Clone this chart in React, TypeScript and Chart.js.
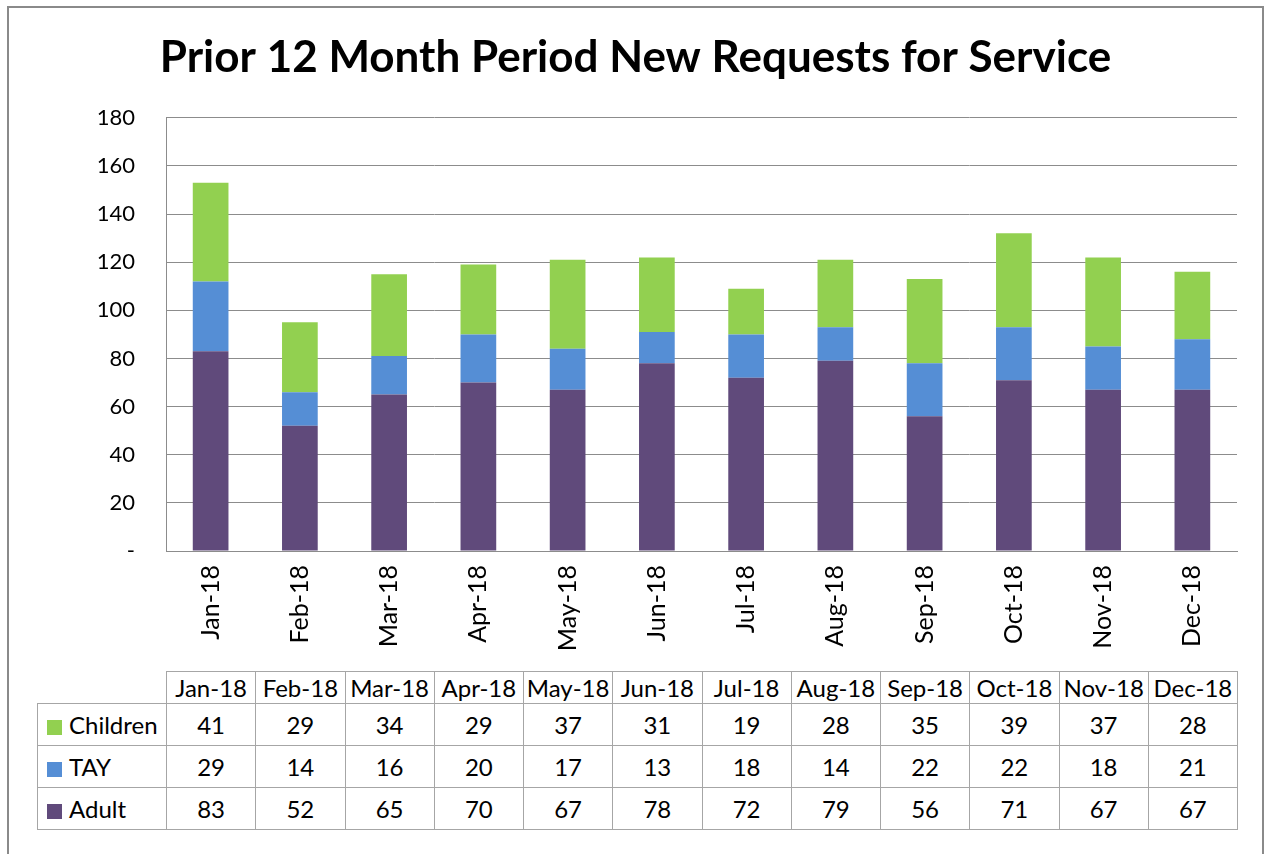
import React, { useEffect, useRef, useState } from "react";
import Chart from "chart.js/auto";

const TITLE = "Prior 12 Month Period New Requests for Service";
const months = ["Jan-18", "Feb-18", "Mar-18", "Apr-18", "May-18", "Jun-18", "Jul-18", "Aug-18", "Sep-18", "Oct-18", "Nov-18", "Dec-18"];
const children = [41, 29, 34, 29, 37, 31, 19, 28, 35, 39, 37, 28];
const tay = [29, 14, 16, 20, 17, 13, 18, 14, 22, 22, 18, 21];
const adult = [83, 52, 65, 70, 67, 78, 72, 79, 56, 71, 67, 67];
const yMin = 0;
const yMax = 180;
const yStep = 20;

const C_CHILDREN = "#92D050";
const C_TAY = "#558ED5";
const C_ADULT = "#604A7B";
const GRID = "#8c8c8c";
const FONT = "Lato, 'Open Sans', sans-serif";

const tableRows = [
  { name: "Children", color: C_CHILDREN, values: children },
  { name: "TAY", color: C_TAY, values: tay },
  { name: "Adult", color: C_ADULT, values: adult },
];

export default function App() {
  const canvasRef = useRef<HTMLCanvasElement | null>(null);
  const [area, setArea] = useState<{ left: number; right: number } | null>(null);

  useEffect(() => {
    if (!canvasRef.current) return;
    const chart = new Chart(canvasRef.current, {
      type: "bar",
      data: {
        labels: months,
        datasets: [
          { label: "Adult", data: adult, backgroundColor: C_ADULT, borderWidth: 0, barPercentage: 0.4, categoryPercentage: 1 },
          { label: "TAY", data: tay, backgroundColor: C_TAY, borderWidth: 0, barPercentage: 0.4, categoryPercentage: 1 },
          { label: "Children", data: children, backgroundColor: C_CHILDREN, borderWidth: 0, barPercentage: 0.4, categoryPercentage: 1 },
        ],
      },
      options: {
        responsive: false,
        animation: false,
        layout: { padding: { left: 34, right: 28, top: 0, bottom: 0 } },
        plugins: {
          legend: { display: false },
          tooltip: { enabled: false },
          title: {
            display: true,
            text: TITLE,
            color: "#000",
            font: { family: FONT, size: 44, weight: "bold", lineHeight: 1.2 },
            padding: { top: 31, bottom: 34 },
          },
        },
        scales: {
          x: {
            stacked: true,
            grid: { display: false, drawTicks: false },
            border: { display: true, color: GRID, width: 1 },
            ticks: {
              color: "#000",
              font: { family: FONT, size: 25 },
              minRotation: 90,
              maxRotation: 90,
              padding: 14,
            },
            afterFit: (scale: any) => {
              scale.height = 100;
            },
          },
          y: {
            stacked: true,
            min: yMin,
            max: yMax,
            grid: { color: GRID, lineWidth: 1, drawTicks: false },
            border: { display: true, color: GRID, width: 1 },
            ticks: {
              stepSize: yStep,
              color: "#000",
              font: { family: FONT, size: 22 },
              padding: 31,
              callback: (v: any) => (Number(v) === 0 ? "-" : String(v)),
            },
            afterFit: (scale: any) => {
              scale.width = 132;
            },
          },
        },
      },
    });
    setArea({ left: chart.chartArea.left, right: chart.chartArea.right });
    return () => chart.destroy();
  }, []);

  const colW = area ? (area.right - area.left) / months.length : 0;
  const labelLeft = 37;
  const cell: React.CSSProperties = {
    border: "1.5px solid #a6a6a6",
    padding: 0,
    textAlign: "center",
    fontFamily: FONT,
    fontSize: 24,
    color: "#000",
  };

  return (
    <div style={{ position: "absolute", left: 0, top: 0, width: 1265, height: 854, overflow: "hidden", background: "#fff" }}>
      <div
        style={{
          position: "absolute",
          left: 7,
          top: 6,
          width: 1257,
          height: 860,
          border: "2px solid #8a8a8a",
          borderBottom: "none",
          boxSizing: "border-box",
        }}
      />
      <canvas ref={canvasRef} width={1265} height={651} style={{ position: "absolute", left: 0, top: 0 }} />
      {area && (
        <table
          style={{
            position: "absolute",
            left: labelLeft,
            top: 671,
            borderCollapse: "collapse",
            tableLayout: "fixed",
            width: area.right - labelLeft,
          }}
        >
          <colgroup>
            <col style={{ width: area.left - labelLeft }} />
            {months.map((m) => (
              <col key={m} style={{ width: colW }} />
            ))}
          </colgroup>
          <tbody>
            <tr style={{ height: 32 }}>
              <td style={{ ...cell, border: "none", borderRight: "1.5px solid #a6a6a6" }} />
              {months.map((m) => (
                <td key={m} style={cell}>
                  {m}
                </td>
              ))}
            </tr>
            {tableRows.map((r) => (
              <tr key={r.name} style={{ height: 42 }}>
                <td style={{ ...cell, textAlign: "left", paddingLeft: 9 }}>
                  <span
                    style={{
                      display: "inline-block",
                      width: 15,
                      height: 15,
                      background: r.color,
                      marginRight: 7,
                      verticalAlign: "-1px",
                    }}
                  />
                  {r.name}
                </td>
                {r.values.map((v, i) => (
                  <td key={i} style={cell}>
                    {v}
                  </td>
                ))}
              </tr>
            ))}
          </tbody>
        </table>
      )}
    </div>
  );
}
